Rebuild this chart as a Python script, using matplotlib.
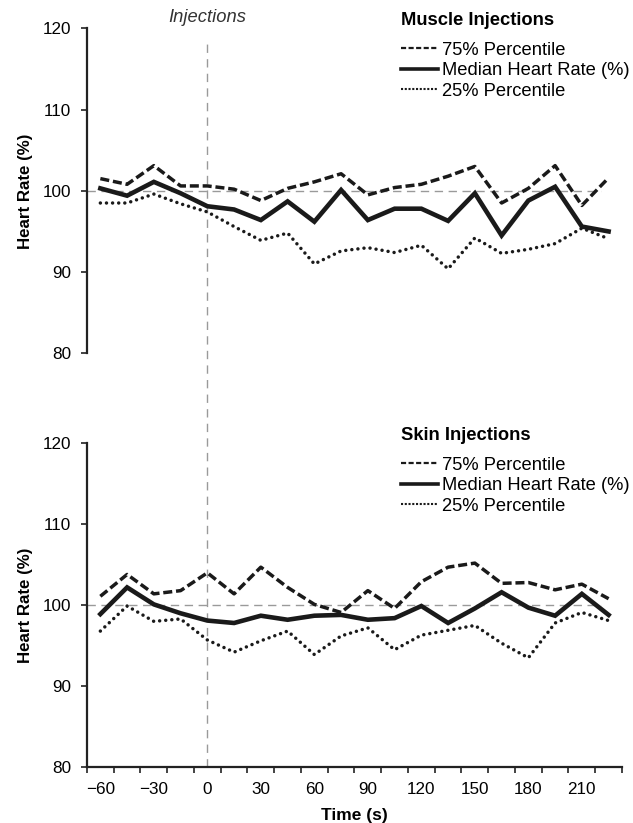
import matplotlib
matplotlib.use('Agg')
import matplotlib.pyplot as plt
import matplotlib.transforms as mtransforms
from matplotlib.lines import Line2D

plt.rcParams['font.family'] = 'Liberation Sans'

# Tempo (s) em relação às injeções
tempo = [-60, -45, -30, -15, 0, 15, 30, 45, 60, 75, 90, 105, 120, 135, 150, 165, 180, 195, 210, 225]
rotulos_x = [-60, -30, 0, 30, 60, 90, 120, 150, 180, 210]
rotulos_y = [80, 90, 100, 110, 120]

# Injeções musculares
musculo_p75 = [101.5, 100.8, 103.1, 100.6, 100.6, 100.2, 98.8, 100.3, 101.1, 102.1,
               99.5, 100.4, 100.8, 101.8, 103.0, 98.5, 100.3, 103.1, 98.2, 101.6]
musculo_mediana = [100.3, 99.4, 101.1, 99.7, 98.1, 97.7, 96.4, 98.7, 96.2, 100.1,
                   96.4, 97.8, 97.8, 96.3, 99.7, 94.5, 98.8, 100.5, 95.6, 95.0]
musculo_p25 = [98.5, 98.5, 99.6, 98.4, 97.4, 95.6, 93.9, 94.8, 91.0, 92.6,
               93.0, 92.4, 93.3, 90.4, 94.2, 92.3, 92.8, 93.5, 95.4, 94.1]

# Injeções na pele
pele_p75 = [101.1, 103.8, 101.4, 101.8, 104.0, 101.4, 104.7, 102.2, 100.1, 99.1,
            101.8, 99.6, 102.9, 104.7, 105.2, 102.7, 102.8, 101.9, 102.6, 100.8]
pele_mediana = [98.9, 102.2, 100.1, 99.0, 98.1, 97.8, 98.7, 98.2, 98.7, 98.8,
                98.2, 98.4, 99.9, 97.8, 99.6, 101.6, 99.7, 98.7, 101.4, 98.8]
pele_p25 = [96.8, 99.9, 98.0, 98.3, 95.7, 94.2, 95.6, 96.8, 93.9, 96.2,
            97.2, 94.5, 96.3, 96.9, 97.5, 95.3, 93.5, 97.8, 99.1, 98.1]

preto = '#1a1a1a'
cinza = '#9a9a9a'
passo = 15
x_min = tempo[0] - passo / 2
x_max = tempo[-1] + passo / 2

fig = plt.figure(figsize=(6.33, 8.23), dpi=100)
ax1 = fig.add_axes([0.1374, 0.5707, 0.8452, 0.3949])
ax2 = fig.add_axes([0.1374, 0.068, 0.8452, 0.3933])


def desenhar(ax, p75, mediana, p25, titulo, eixo_x):
    ax.patch.set_visible(False)
    ax.hlines(100, x_min, 221, colors=cinza, linestyles=(0, (6, 4)), lw=1.0, zorder=1)
    ax.plot(tempo, p75, color=preto, lw=2.5, dashes=(2.6, 1.1), zorder=3)
    ax.plot(tempo, mediana, color=preto, lw=3.3, solid_joinstyle='miter', zorder=3)
    ax.plot(tempo, p25, color=preto, lw=2.5, dashes=(0.01, 1.75),
            dash_capstyle='round', zorder=3)

    ax.set_xlim(x_min, x_max)
    ax.set_ylim(80, 120)
    ax.set_yticks(rotulos_y)
    ax.tick_params(axis='y', direction='out', length=4.5, width=1.2,
                   labelsize=12.3, pad=7, color='#222222')
    for lado in ['top', 'right']:
        ax.spines[lado].set_visible(False)
    ax.spines['left'].set_linewidth(1.6)
    ax.spines['left'].set_color('#222222')

    if eixo_x:
        ax.spines['bottom'].set_linewidth(1.6)
        ax.spines['bottom'].set_color('#222222')
        ax.set_xticks(rotulos_x)
        ax.set_xticks([x_min + passo * i for i in range(len(tempo) + 1)], minor=True)
        ax.tick_params(axis='x', which='major', length=0, labelsize=12.3, pad=11)
        ax.tick_params(axis='x', which='minor', direction='out', length=4,
                       width=1.2, color='#222222')
        ax.set_xlabel('Time (s)', fontweight='bold', fontsize=12.5)
        ax.xaxis.set_label_coords(0.5, -0.127)
    else:
        ax.spines['bottom'].set_visible(False)
        ax.set_xticks([])

    ax.set_ylabel('Heart Rate (%)', fontweight='bold', fontsize=12.2)
    ax.yaxis.set_label_coords(-0.101, 0.5)

    # Título da legenda separado, para controlar o espaçamento
    ax.text(0.587, 1.0234, titulo, transform=ax.transAxes, ha='left', va='center',
            fontweight='bold', fontsize=13.2)

    alcas = [
        Line2D([], [], color=preto, lw=1.6, dashes=(2.3, 1.1)),
        Line2D([], [], color=preto, lw=2.6),
        Line2D([], [], color=preto, lw=1.5, dashes=(1.0, 0.8)),
    ]
    nomes = ['75% Percentile', 'Median Heart Rate (%)', '25% Percentile']
    ax.legend(alcas, nomes, loc='center left', bbox_to_anchor=(0.587, 0.869),
              frameon=False, borderpad=0, borderaxespad=0, handlelength=2.0,
              handletextpad=0.22, labelspacing=0.19, prop={'size': 13.2})


desenhar(ax1, musculo_p75, musculo_mediana, musculo_p25, 'Muscle Injections', False)
desenhar(ax2, pele_p75, pele_mediana, pele_p25, 'Skin Injections', True)

# Linha vertical das injeções atravessando os dois painéis
trans = mtransforms.blended_transform_factory(ax2.transData, fig.transFigure)
y_base = ax2.get_position().y0
fig.add_artist(Line2D([0, 0], [y_base, 1 - 40 / 823], transform=trans,
                      color=cinza, lw=1.0, dashes=(6, 4.5), zorder=-1))
fig.text(0, 1 - 18 / 823, 'Injections', transform=trans, ha='center', va='center',
         fontstyle='italic', fontsize=13.2, color='#333333')

fig.savefig('out.png', dpi=100)
